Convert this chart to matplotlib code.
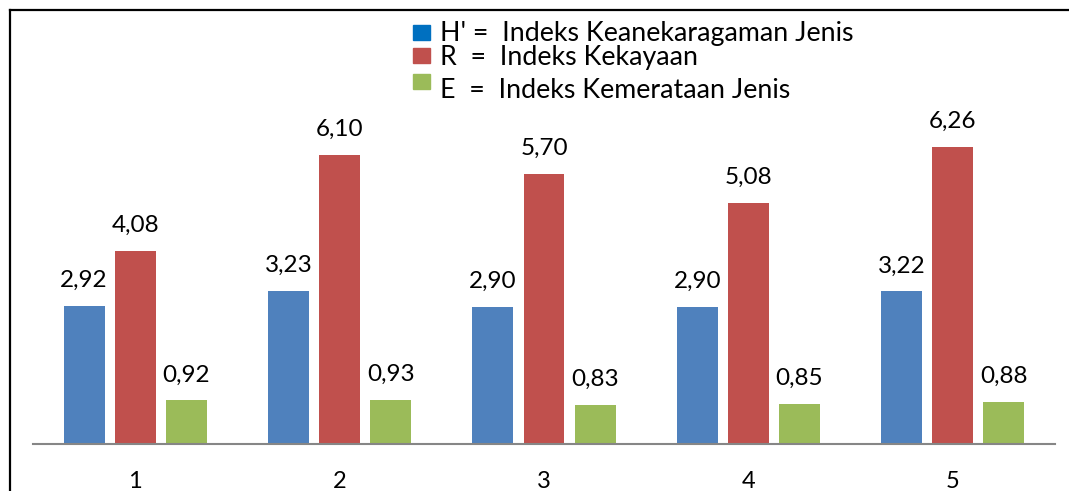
import matplotlib.pyplot as plt
import numpy as np
from matplotlib.lines import Line2D
from matplotlib.patches import Rectangle

plt.rcParams['font.family'] = ['Lato', 'DejaVu Sans']

stations = ['1', '2', '3', '4', '5']
h_index = [2.92, 3.23, 2.90, 2.90, 3.22]
r_index = [4.08, 6.10, 5.70, 5.08, 6.26]
e_index = [0.92, 0.93, 0.83, 0.85, 0.88]

legend_labels = ["H' =  Indeks Keanekaragaman Jenis",
                 "R  =  Indeks Kekayaan",
                 "E  =  Indeks Kemerataan Jenis"]

fig = plt.figure(figsize=(10.69, 4.91), dpi=100)
ax = fig.add_axes([0.0309, 0.0957, 0.956, 0.8689])

x = np.arange(len(stations))
w = 0.2
series = [(h_index, -0.25, '#4F81BD'),
          (r_index, 0.0, '#C0504D'),
          (e_index, 0.25, '#9BBB59')]

for vals, off, col in series:
    bars = ax.bar(x + off, vals, w, color=col)
    for b, v in zip(bars, vals):
        ax.annotate(('%.2f' % v).replace('.', ','),
                    (b.get_x() + b.get_width() / 2, b.get_height()),
                    xytext=(0, 13.7), textcoords='offset points',
                    ha='center', va='baseline', fontsize=17.5)

ax.set_xlim(-0.5, 4.5)
ax.set_ylim(0, 9)
ax.set_xticks(x)
ax.set_xticklabels(stations, fontsize=17)
ax.tick_params(axis='x', length=0, pad=19.5)
ax.set_yticks([])
for s in ['top', 'right', 'left']:
    ax.spines[s].set_visible(False)
ax.spines['bottom'].set_color('#868686')
ax.spines['bottom'].set_linewidth(1.5)

# outer frame (top and left only)
fig.add_artist(Line2D([0.0089, 1.0], [0.9796, 0.9796], color='black', lw=1.6,
                      transform=fig.transFigure))
fig.add_artist(Line2D([0.0089, 0.0089], [0.0, 0.9796], color='black', lw=1.6,
                      transform=fig.transFigure))

# legend drawn by hand
leg_colors = ['#0070C0', '#C0504D', '#9BBB59']
sq_y = [25, 48, 74]
txt_y = [33, 58, 91]
for col, sy, ty, lab in zip(leg_colors, sq_y, txt_y, legend_labels):
    fig.add_artist(Rectangle((413 / 1069, 1 - (sy + 15) / 491), 17 / 1069, 15 / 491,
                             color=col, transform=fig.transFigure))
    fig.text(440 / 1069, 1 - ty / 491, lab, fontsize=19.3, va='center', ha='left')

fig.savefig('out.png', dpi=100)
